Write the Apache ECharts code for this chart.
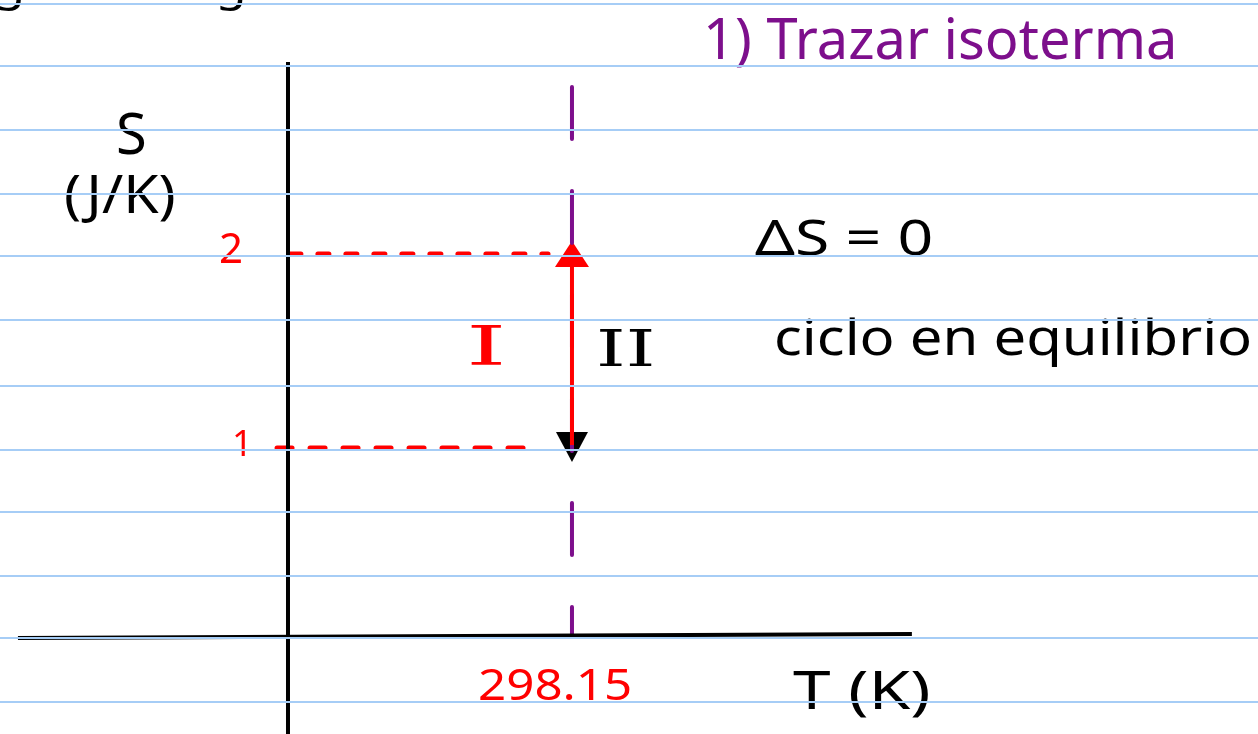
<!DOCTYPE html>
<html>
<head>
<meta charset="utf-8">
<script src="https://cdn.jsdelivr.net/npm/echarts@6/dist/echarts.min.js"></script>
<style>
  html, body { margin: 0; padding: 0; background: #fff; }
  #chart { width: 1258px; height: 734px; }
</style>
</head>
<body>
<div id="chart"></div>
<script>
// notebook ruling, read in S units (J/K)
var rulingS = [-0.309, 0.021, 0.335, 0.665, 0.995, 1.325, 1.655, 1.99, 2.314, 2.639, 2.969, 3.289];

// isotherm at 298.15 K
var isoT = 298.15;
var isoLine = [[298.15, 2.861], [298.15, 0.026]];

// entropy levels 1 and 2
var levelS = [1, 2];
var level2Line = [[2, 2], [273, 2]];
var level1Line = [[-11.5, 1], [256, 1]];

// process I (red, 1 -> 2)
var processLine = [[298.15, 1.015], [298.15, 1.959]];
var headUp = [[298.15, 2.0]];
var headDown = [[298.15, 1.005]];

// hand-drawn axes
var tAxisLine = [[-283.5, 0.021], [655, 0.041]];
var sAxisLine = [[0, 2.99], [0, -0.474]];

var chart = echarts.init(document.getElementById('chart'));

function note(x, y, text, size, color, sx, family) {
  return {
    type: 'text', x: x, y: y, scaleX: sx || 1,
    style: { text: text, font: size + 'px "' + (family || 'Noto Sans') + '"', fill: color }
  };
}

var option = {
  backgroundColor: '#fff',
  animation: false,
  grid: { left: 0, right: 0, top: 0, bottom: 0 },
  xAxis: { type: 'value', min: -302.36, max: 1018.4, show: false },
  yAxis: { type: 'value', min: -0.4742, max: 3.3093, show: false },
  graphic: [
    note(-6, -36, 'guiente   gráfica', 46, '#000', 1.1),
    note(703, 15, '1) Trazar isoterma', 56, '#7d0f8c'),
    note(116, 110, 'S', 56, '#000'),
    note(64, 172, '(J/K)', 52, '#000', 1.1),
    note(219, 230, '2', 42, '#ff0000'),
    note(232, 428, '1', 36, '#ff0000'),
    note(466, 324, 'I', 54, '#ff0000', 1.9, 'DejaVu Serif'),
    note(596, 328, 'II', 50, '#000', 1.5, 'DejaVu Serif'),
    note(755, 216, 'ΔS = 0', 50, '#000', 1.25),
    note(774, 316, 'ciclo en equilibrio', 50, '#000', 1.16),
    note(478, 665, '298.15', 44, '#ff0000', 1.12),
    note(793, 668, 'T (K)', 52, '#000', 1.3)
  ],
  series: [
    {
      name: 'ruling',
      type: 'line',
      data: [],
      silent: true,
      markLine: {
        silent: true,
        symbol: ['none', 'none'],
        label: { show: false },
        lineStyle: { color: '#a6cdf6', width: 2, type: 'solid' },
        data: rulingS.map(function (s) { return { yAxis: s }; })
      }
    },
    {
      name: 'isoterma',
      type: 'line',
      data: isoLine,
      symbol: 'none',
      lineStyle: { color: '#7d0f8c', width: 4, type: [52, 52], cap: 'round' }
    },
    {
      name: 'S2',
      type: 'line',
      data: level2Line,
      symbol: 'none',
      lineStyle: { color: '#ff0000', width: 5, type: [11, 17], cap: 'round' }
    },
    {
      name: 'S1',
      type: 'line',
      data: level1Line,
      symbol: 'none',
      lineStyle: { color: '#ff0000', width: 5, type: [15, 18], cap: 'round' }
    },
    {
      name: 'I',
      type: 'line',
      data: processLine,
      symbol: 'none',
      lineStyle: { color: '#ff0000', width: 4 }
    },
    {
      name: 'arrow up',
      type: 'scatter',
      data: headUp,
      symbol: 'triangle',
      symbolSize: [34, 26],
      itemStyle: { color: '#ff0000', opacity: 1 }
    },
    {
      name: 'arrow down',
      type: 'scatter',
      data: headDown,
      symbol: 'triangle',
      symbolRotate: 180,
      symbolSize: [32, 30],
      itemStyle: { color: '#000', opacity: 1 }
    },
    {
      name: 'T axis',
      type: 'line',
      data: tAxisLine,
      symbol: 'none',
      lineStyle: { color: '#000', width: 4 }
    },
    {
      name: 'S axis',
      type: 'line',
      data: sAxisLine,
      symbol: 'none',
      lineStyle: { color: '#000', width: 4 }
    }
  ]
};

chart.setOption(option);
window.addEventListener('resize', function () {
  chart.resize();
});
</script>
</body>
</html>
